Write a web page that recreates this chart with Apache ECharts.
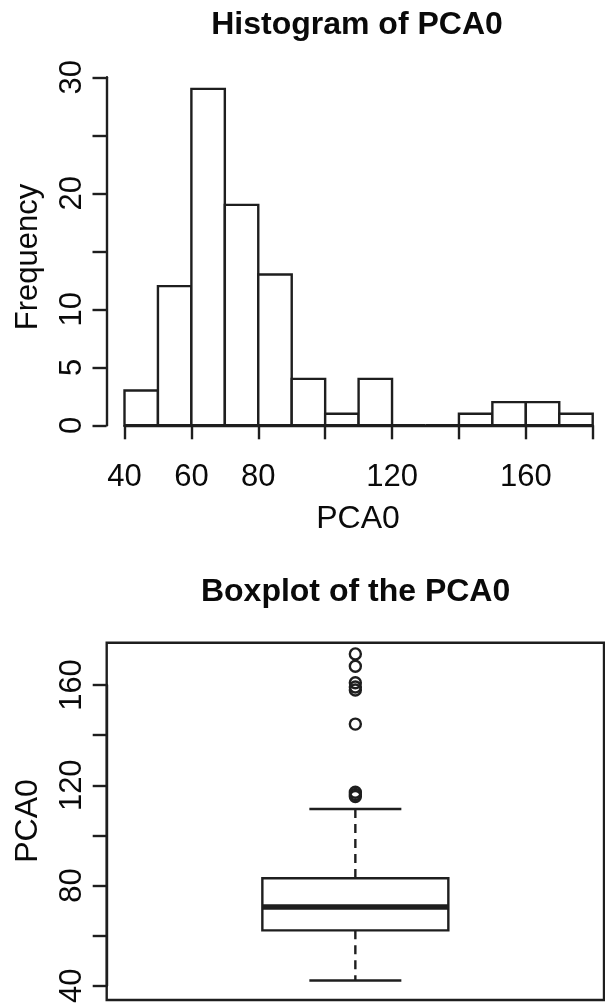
<!DOCTYPE html>
<html>
<head>
<meta charset="utf-8">
<script src="https://cdn.jsdelivr.net/npm/echarts@6/dist/echarts.min.js"></script>
<style>
html, body { margin: 0; padding: 0; background: #fff; }
#chart { width: 605px; height: 1006px; }
</style>
</head>
<body>
<div id="chart"></div>
<script>
// histogram: bins of width 10, counts
var binStarts = [40, 50, 60, 70, 80, 90, 100, 110, 120, 130, 140, 150, 160, 170];
var binWidth = 10;
var counts = [3, 12, 29, 19, 13, 4, 1, 4, 0, 0, 1, 2, 2, 1];

// ticks that carry a label (R drops the crowded ones)
var histXLabels = [40, 60, 80, 120, 160];
var histYLabels = [0, 5, 10, 20, 30];
var boxYLabels = [40, 80, 120, 160];

// boxplot: lower whisker, Q1, median, Q3, upper whisker
var boxStats = [42.1, 62.1, 71.4, 82.9, 110.5];
var outliers = [172.4, 167.5, 160.9, 159.2, 158.0, 144.4, 117.2, 116.3, 115.5];

var ink = '#1e1e1e';
var textInk = '#0a0a0a';
var lw = 2.4;
var font = '"Liberation Sans", Arial, sans-serif';
var boxHalf = 0.187;   // half box width, in units of the hidden x axis
var capHalf = 0.0925;

function onlyLabels(list) {
    return function (v) {
        return list.indexOf(v) >= 0 ? String(v) : '';
    };
}

function axisStyle(labels, extra) {
    var ax = {
        axisLine: { show: true, lineStyle: { color: ink, width: lw } },
        axisTick: { show: true, length: 14, lineStyle: { color: ink, width: lw } },
        axisLabel: { formatter: onlyLabels(labels), color: textInk, fontSize: 31, fontFamily: font },
        splitLine: { show: false }
    };
    for (var k in extra) {
        if (k === 'axisLabel') {
            for (var j in extra[k]) ax.axisLabel[j] = extra[k][j];
        } else {
            ax[k] = extra[k];
        }
    }
    return ax;
}

var chart = echarts.init(document.getElementById('chart'));

chart.setOption({
    animation: false,
    textStyle: { fontFamily: font },
    grid: [
        { left: 124.5, top: 77.3, width: 468.2, height: 348 },
        { left: 106.7, top: 642.7, width: 497.3, height: 357.3, show: true, borderColor: ink, borderWidth: lw },
        { left: 106.7, top: 685, width: 497.3, height: 307.7 }
    ],
    xAxis: [
        axisStyle(histXLabels, {
            gridIndex: 0, type: 'value', min: 40, max: 180, interval: 20, offset: 16,
            axisLabel: { margin: 21 }
        }),
        { gridIndex: 1, type: 'value', min: 0, max: 1, show: false },
        { gridIndex: 2, type: 'value', min: 0.5, max: 1.5, show: false }
    ],
    yAxis: [
        axisStyle(histYLabels, {
            gridIndex: 0, type: 'value', min: 0, max: 30, interval: 5, offset: 18,
            axisLabel: { rotate: 90, margin: 19 }
        }),
        { gridIndex: 1, type: 'value', min: 0, max: 1, show: false },
        axisStyle(boxYLabels, {
            gridIndex: 2, type: 'value', min: 40, max: 160, interval: 20,
            axisLabel: { rotate: 90, margin: 19 }
        })
    ],
    graphic: [
        { type: 'text', x: 357, y: 25, style: { text: 'Histogram of PCA0', font: 'bold 32px ' + font, fill: textInk, align: 'center', verticalAlign: 'middle' } },
        { type: 'text', x: 28, y: 257, rotation: Math.PI / 2, style: { text: 'Frequency', font: '31px ' + font, fill: textInk, align: 'center', verticalAlign: 'middle' } },
        { type: 'text', x: 358, y: 519, style: { text: 'PCA0', font: '32px ' + font, fill: textInk, align: 'center', verticalAlign: 'middle' } },
        { type: 'text', x: 355.6, y: 592, style: { text: 'Boxplot of the PCA0', font: 'bold 32px ' + font, fill: textInk, align: 'center', verticalAlign: 'middle' } },
        { type: 'text', x: 28, y: 821, rotation: Math.PI / 2, style: { text: 'PCA0', font: '32px ' + font, fill: textInk, align: 'center', verticalAlign: 'middle' } }
    ],
    series: [
        {
            type: 'custom',
            xAxisIndex: 0,
            yAxisIndex: 0,
            data: binStarts.map(function (s, i) { return [s, counts[i]]; }),
            encode: { x: 0, y: 1 },
            renderItem: function (params, api) {
                var start = api.value(0);
                var p0 = api.coord([start, api.value(1)]);
                var p1 = api.coord([start + binWidth, 0]);
                return {
                    type: 'rect',
                    shape: { x: p0[0], y: p0[1], width: p1[0] - p0[0], height: p1[1] - p0[1] },
                    style: { fill: '#fff', stroke: ink, lineWidth: lw }
                };
            }
        },
        {
            type: 'custom',
            xAxisIndex: 2,
            yAxisIndex: 2,
            clip: false,
            data: [[1].concat(boxStats)],
            encode: { x: 0, y: [1, 2, 3, 4, 5] },
            renderItem: function (params, api) {
                var x = api.value(0);
                function pt(dx, v) { return api.coord([x + dx, v]); }
                var lo = api.value(1), q1 = api.value(2), med = api.value(3), q3 = api.value(4), hi = api.value(5);
                var a = pt(-boxHalf, q3), b = pt(boxHalf, q1);
                var line = function (p, q, w, dash) {
                    return {
                        type: 'line',
                        shape: { x1: p[0], y1: p[1], x2: q[0], y2: q[1] },
                        style: { stroke: ink, lineWidth: w, lineDash: dash || null }
                    };
                };
                return {
                    type: 'group',
                    children: [
                        line(pt(0, hi), pt(0, q3), lw, [9, 6]),
                        line(pt(0, q1), pt(0, lo), lw, [9, 6]),
                        line(pt(-capHalf, hi), pt(capHalf, hi), lw),
                        line(pt(-capHalf, lo), pt(capHalf, lo), lw),
                        {
                            type: 'rect',
                            shape: { x: a[0], y: a[1], width: b[0] - a[0], height: b[1] - a[1] },
                            style: { fill: '#fff', stroke: ink, lineWidth: lw }
                        },
                        line(pt(-boxHalf, med), pt(boxHalf, med), 5.5)
                    ]
                };
            }
        },
        {
            type: 'scatter',
            xAxisIndex: 2,
            yAxisIndex: 2,
            clip: false,
            symbol: 'circle',
            symbolSize: 11,
            itemStyle: { color: 'rgba(0,0,0,0)', borderColor: ink, borderWidth: lw, opacity: 1 },
            data: outliers.map(function (v) { return [1, v]; })
        }
    ]
});
</script>
</body>
</html>
